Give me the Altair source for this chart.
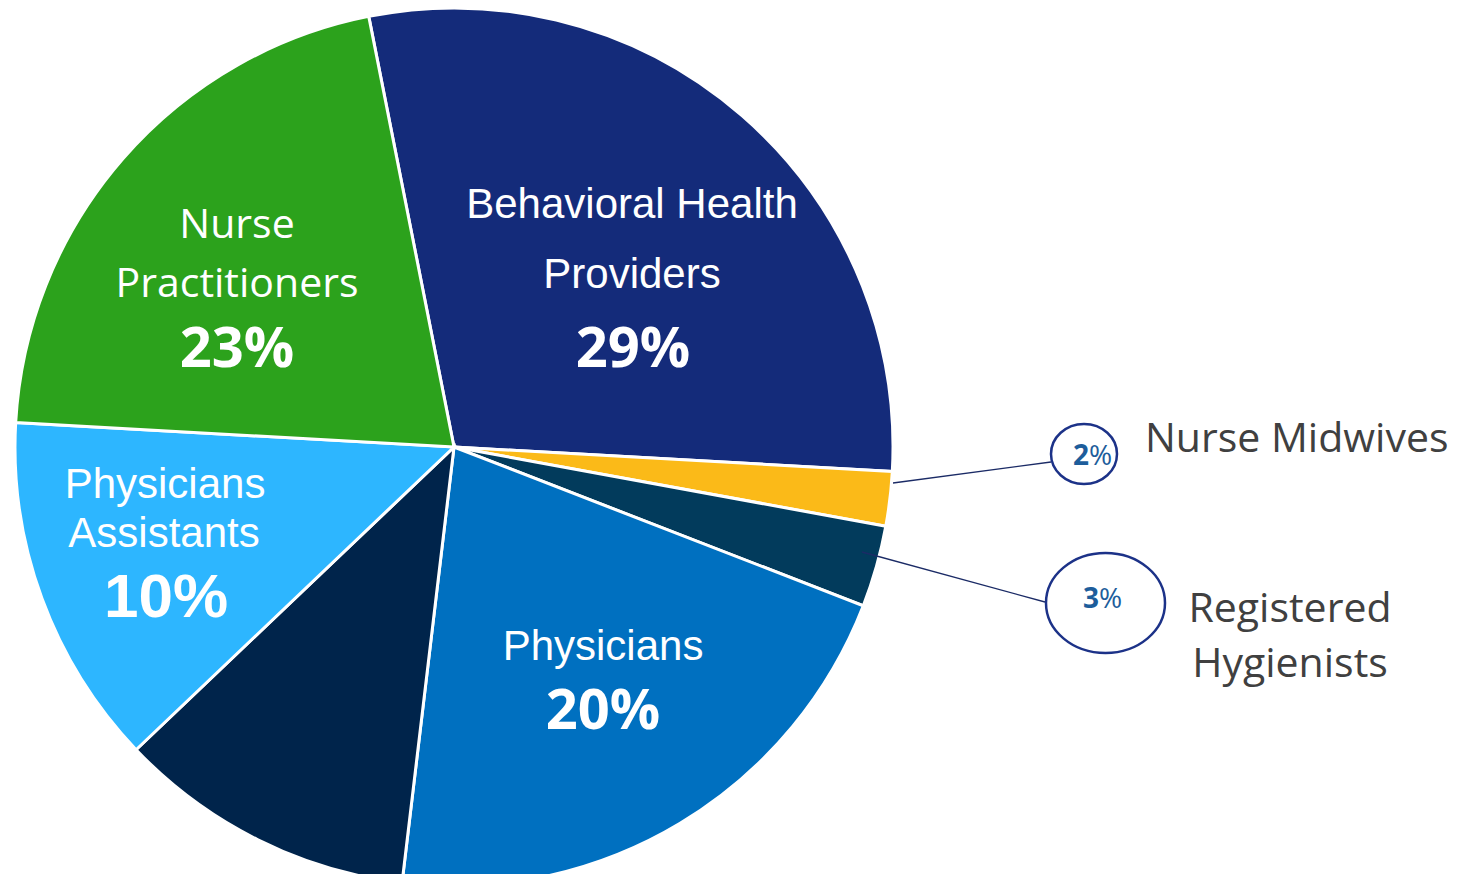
import math
import altair as alt
import pandas as pd

# ---------------- data ----------------
categories = ["Behavioral Health Providers", "Nurse Midwives", "Registered Hygienists",
              "Physicians", "Other", "Physicians Assistants", "Nurse Practitioners"]
shares = [29, 2, 3, 21, 11, 13, 21]          # slice sizes as drawn
slice_colors = ["#142B7A", "#FBBA18", "#023B5C", "#0070C0", "#00244B", "#2DB6FF", "#2CA21C"]

bh_lines = ["Behavioral Health", "Providers"]
np_lines = ["Nurse", "Practitioners"]
pa_lines = ["Physicians", "Assistants"]
ph_lines = ["Physicians"]
pct_labels = ["29%", "23%", "20%"]
pa_pct = "10%"
nm_label = "Nurse Midwives"
rh_lines = ["Registered", "Hygienists"]
callout_digits = ["2", "3"]

# ---------------- layout (pixels) ----------------
W, H = 1444, 866
CX, CY, R = 446, 439, 439
START = math.radians(-11.2)

x_scale = alt.Scale(domain=[0, W], nice=False, zero=False)
y_scale = alt.Scale(domain=[H, 0], nice=False, zero=False)

pie_df = pd.DataFrame({"category": categories, "share": shares,
                       "order": list(range(len(categories)))})

arc = alt.Chart(pie_df).mark_arc(radius=R, stroke="white", strokeWidth=3).encode(
    theta=alt.Theta("share:Q", stack=True,
                    scale=alt.Scale(range=[START, START + 2 * math.pi])),
    color=alt.Color("category:N", scale=alt.Scale(domain=categories, range=slice_colors),
                    legend=None),
    order=alt.Order("order:Q"),
    x=alt.XDatum(CX, scale=x_scale, axis=None),
    y=alt.YDatum(CY, scale=y_scale, axis=None),
)


def text_layer(rows, font, size, weight="normal", color="white", align="center"):
    df = pd.DataFrame(rows, columns=["x", "y", "text"])
    return alt.Chart(df).mark_text(font=font, fontSize=size, fontWeight=weight,
                                   color=color, align=align, baseline="alphabetic").encode(
        x=alt.X("x:Q", scale=x_scale, axis=None),
        y=alt.Y("y:Q", scale=y_scale, axis=None),
        text="text:N",
    )


ARIAL = "Liberation Sans, Arial, sans-serif"
CAL = "Open Sans, Noto Sans, sans-serif"

arial_reg = text_layer([
    (624, 210, bh_lines[0]), (624, 280, bh_lines[1]),
    (157, 490, pa_lines[0]), (156, 539, pa_lines[1]),
    (595, 652, ph_lines[0]),
], ARIAL, 42)

cal_reg = text_layer([
    (229, 230, np_lines[0]), (229, 289, np_lines[1]),
], CAL, 41)

pct_bold = text_layer([
    (625, 359, pct_labels[0]), (229, 359, pct_labels[1]), (595, 721, pct_labels[2]),
], CAL, 56, weight="bold")

pa_bold = text_layer([(158, 609, pa_pct)], ARIAL, 62, weight="bold")

nm_text = text_layer([(1137, 444, nm_label)], CAL, 41, color="#404040", align="left")
rh_text = text_layer([(1282, 614, rh_lines[0]), (1282, 669, rh_lines[1])], CAL, 41,
                     color="#404040")

# leader lines
lead_df = pd.DataFrame({"x": [885, 854], "y": [475, 544], "x2": [1043, 1037], "y2": [454, 594]})
leaders = alt.Chart(lead_df).mark_rule(color="#1B2B66", strokeWidth=1.3).encode(
    x=alt.X("x:Q", scale=x_scale, axis=None), y=alt.Y("y:Q", scale=y_scale, axis=None),
    x2="x2:Q", y2="y2:Q",
)


def ellipse(cx, cy, rx, ry):
    k = ry / rx
    path = f"M -1 0 A 1 {k:.3f} 0 1 1 1 0 A 1 {k:.3f} 0 1 1 -1 0 Z"
    df = pd.DataFrame({"x": [cx], "y": [cy]})
    return alt.Chart(df).mark_point(shape=path, size=(2 * rx) ** 2, filled=False,
                                    stroke="#1C3288", strokeWidth=2.5, opacity=1,
                                    fill="white", fillOpacity=0).encode(
        x=alt.X("x:Q", scale=x_scale, axis=None), y=alt.Y("y:Q", scale=y_scale, axis=None))


ell1 = ellipse(1076, 446, 33, 30)
ell2 = ellipse(1097.5, 595, 59.5, 50)

small_digits = text_layer([(1081, 457, callout_digits[0]), (1091, 600, callout_digits[1])],
                          CAL, 28, weight="bold", color="#1D5D9B", align="right")
small_pct = text_layer([(1081, 457, "%"), (1091, 600, "%")], CAL, 28, color="#1D5D9B",
                       align="left")

chart = alt.layer(
    arc, arial_reg, cal_reg, pct_bold, pa_bold, nm_text, rh_text,
    leaders, ell1, ell2, small_digits, small_pct,
).properties(
    width=W, height=H, padding=0, background="white",
    autosize=alt.AutoSizeParams(type="none"),
).configure_view(stroke=None)

chart.save("out.html", embed_options={"renderer": "svg", "actions": False})
